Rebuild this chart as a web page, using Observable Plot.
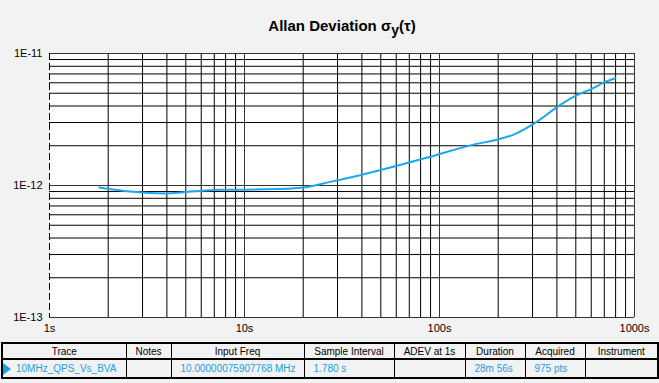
<!DOCTYPE html>
<html><head><meta charset="utf-8">
<script src="https://cdn.jsdelivr.net/npm/d3@7"></script>
<script src="https://cdn.jsdelivr.net/npm/@observablehq/plot@0.6"></script>
<style>
body{margin:0;background:#f2f2f2;font-family:"Liberation Sans",Arial,sans-serif;}
#wrap{position:relative;width:659px;height:383px;overflow:hidden;}
#title{position:absolute;left:0;width:684px;top:17px;text-align:center;font-weight:bold;font-size:15px;color:#000;}
#title sub{font-size:14px;vertical-align:-4px;line-height:0;}
#chart{position:absolute;left:0;top:0;}
table{position:absolute;left:1px;top:342px;width:656px;border-collapse:collapse;font-size:10px;font-family:"Liberation Sans",Arial,sans-serif;table-layout:fixed;border:2px solid #000;}
td,th{border:1px solid #000;padding:0;white-space:nowrap;overflow:hidden;font-weight:normal;}
th{text-align:center;border-bottom:2px solid #000;color:#000;height:14px;}
td{color:#1a9fe0;text-align:left;padding-left:9px;height:17px;}
td.first{position:relative;padding-left:13px;}
td.first:before{content:"";position:absolute;left:0;top:3px;border-left:8px solid #1a9fe0;border-top:6px solid transparent;border-bottom:6px solid transparent;}
</style></head>
<body><div id="wrap">
<div id="title">Allan Deviation σ<sub>y</sub>(τ)</div>
<div id="chart"></div>
<table id="tbl"></table>
</div>
<script>
// Curve values: tau (s) and ADEV
const tau = [1.80, 2.59, 3.92, 4.85, 5.93, 7.51, 10.1, 14.9, 20.5, 27.5, 39.2, 60.5, 89.7, 149, 201, 240, 322, 400, 507, 593, 722, 796];
const adev = [0.966e-12, 0.90e-12, 0.87e-12, 0.89e-12, 0.91e-12, 0.93e-12, 0.93e-12, 0.94e-12, 0.97e-12, 1.065e-12, 1.197e-12, 1.41e-12, 1.65e-12, 2.04e-12, 2.24e-12, 2.43e-12, 3.1e-12, 3.92e-12, 4.83e-12, 5.33e-12, 6.17e-12, 6.5e-12];
const xTickValues = [1, 10, 100, 1000];
const xTickLabels = ["1s", "10s", "100s", "1000s"];
const yTickValues = [1e-13, 1e-12, 1e-11];
const yTickLabels = ["1E-13", "1E-12", "1E-11"];
const headers = ["Trace", "Notes", "Input Freq", "Sample Interval", "ADEV at 1s", "Duration", "Acquired", "Instrument"];
const rowValues = ["10MHz_QPS_Vs_BVA", "", "10.00000075907768 MHz", "1.780 s", "", "28m 56s", "975 pts", ""];
const colWidths = [124, 45, 133, 90, 71, 60, 60, 73];

const data = tau.map((t, i) => ({tau: t, adev: adev[i]}));
const minorX = [];
for (const d of [1, 10, 100]) for (let k = 2; k <= 9; k++) minorX.push(d * k);
const minorY = [];
for (const d of [1e-13, 1e-12]) for (let k = 2; k <= 9; k++) minorY.push(d * k);

const plot = Plot.plot({
  width: 659, height: 340,
  marginTop: 53, marginBottom: 23, marginLeft: 49, marginRight: 25,
  style: {background: "transparent", fontFamily: "Liberation Sans, Arial, sans-serif", fontSize: "11px", color: "#000"},
  x: {type: "log", domain: [1, 1000], label: null},
  y: {type: "log", domain: [1e-13, 1e-11], label: null},
  marks: [
    Plot.frame({fill: "white", stroke: null}),
    Plot.ruleX(minorX, {stroke: "#000", strokeWidth: 1}),
    Plot.ruleY(minorY, {stroke: "#000", strokeWidth: 1}),
    Plot.ruleX([10, 100], {stroke: "#333", strokeWidth: 1}),
    Plot.ruleY([1e-12], {stroke: "#333", strokeWidth: 1}),
    Plot.line(data, {x: "tau", y: "adev", stroke: "#1aa9ee", strokeWidth: 2, curve: "monotone-x"}),
    Plot.ruleY([1e-11, 1e-13], {stroke: "#333"}),
    Plot.ruleX([1000], {stroke: "#333"}),
    Plot.ruleX([1], {stroke: "#000", strokeDasharray: "7,3"}),
    Plot.axisX(xTickValues, {tickSize: 0, tickPadding: 7, tickFormat: (d) => xTickLabels[xTickValues.indexOf(d)]}),
    Plot.axisY(yTickValues, {tickSize: 0, tickPadding: 7, tickFormat: (d) => yTickLabels[yTickValues.indexOf(d)]})
  ]
});
document.getElementById("chart").appendChild(plot);

const tbl = document.getElementById("tbl");
const cg = document.createElement("colgroup");
colWidths.forEach(w => { const c = document.createElement("col"); c.style.width = w + "px"; cg.appendChild(c); });
tbl.appendChild(cg);
const hr = document.createElement("tr");
headers.forEach(h => { const th = document.createElement("th"); th.textContent = h; hr.appendChild(th); });
tbl.appendChild(hr);
const dr = document.createElement("tr");
rowValues.forEach((v, i) => { const td = document.createElement("td"); td.textContent = v; if (i === 0) td.className = "first"; dr.appendChild(td); });
tbl.appendChild(dr);
</script>
</body></html>
